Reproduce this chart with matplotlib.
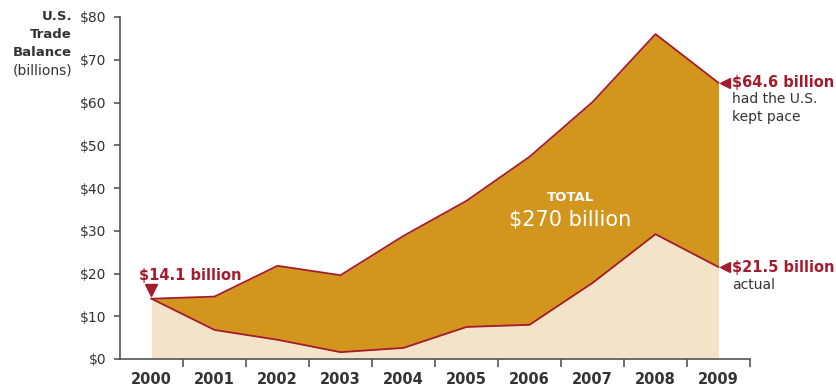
import matplotlib as mpl
import matplotlib.pyplot as plt
import numpy as np

mpl.rcParams['font.family'] = 'DejaVu Sans'

# data
years = ['2000', '2001', '2002', '2003', '2004', '2005', '2006', '2007', '2008', '2009']
kept_pace = [14.1, 14.6, 21.8, 19.6, 28.8, 37.0, 47.3, 60.1, 76.0, 64.6]
actual = [14.1, 6.8, 4.5, 1.6, 2.6, 7.5, 8.0, 17.8, 29.2, 21.5]
yticks = [0, 10, 20, 30, 40, 50, 60, 70, 80]

gold = '#D2951E'
beige = '#F2E3C9'
red = '#A51B2E'
grey = '#333333'

x = np.arange(len(years))

fig = plt.figure(figsize=(8.37, 3.87), dpi=100)
ax = fig.add_axes([120/837, 28/387, 630/837, 342/387])

ax.fill_between(x, 0, actual, color=beige, lw=0)
ax.fill_between(x, actual, kept_pace, color=gold, lw=0)
ax.plot(x, kept_pace, color=red, lw=1.3)
ax.plot(x, actual, color=red, lw=1.3)

ax.set_xlim(-0.5, 9.5)
ax.set_ylim(0, 80)
ax.spines['top'].set_visible(False)
ax.spines['right'].set_visible(False)
for s in ['left', 'bottom']:
    ax.spines[s].set_color('#555555')
    ax.spines[s].set_linewidth(1.2)

ax.set_yticks(yticks)
ax.set_yticklabels(['$%d' % v for v in yticks], color=grey, fontsize=10)
ax.set_xticks(x)
ax.set_xticklabels(years, color=grey, fontsize=10.5, fontweight='bold')
ax.set_xticks(np.arange(0.5, 9.6, 1), minor=True)
ax.tick_params(axis='x', which='major', length=0, pad=9)
ax.tick_params(axis='x', which='minor', length=6, width=1.2, color='#555555')
ax.tick_params(axis='y', length=4, width=1.2, color='#555555', pad=6)

# axis title, top left
fig.text(72/837, 1 - 17/387, 'U.S.', ha='right', va='center', fontsize=9.5, fontweight='bold', color=grey)
fig.text(72/837, 1 - 35/387, 'Trade', ha='right', va='center', fontsize=9.5, fontweight='bold', color=grey)
fig.text(72/837, 1 - 53/387, 'Balance', ha='right', va='center', fontsize=9.5, fontweight='bold', color=grey)
fig.text(72/837, 1 - 70/387, '(billions)', ha='right', va='center', fontsize=10, color=grey)

# annotations
ax.plot(0, 16.2, marker='v', color=red, ms=8, clip_on=False)
ax.text(-0.2, 19.5, '$14.1 billion', ha='left', va='center', fontsize=10.5, fontweight='bold', color=red)

ax.plot(9.1, 64.6, marker='<', color=red, ms=7, clip_on=False)
ax.text(9.21, 64.6, '$64.6 billion', ha='left', va='center', fontsize=10.5, fontweight='bold', color=red, clip_on=False)
ax.text(9.21, 60.8, 'had the U.S.', ha='left', va='center', fontsize=10, color=grey, clip_on=False)
ax.text(9.21, 56.6, 'kept pace', ha='left', va='center', fontsize=10, color=grey, clip_on=False)

ax.plot(9.1, 21.5, marker='<', color=red, ms=7, clip_on=False)
ax.text(9.21, 21.5, '$21.5 billion', ha='left', va='center', fontsize=10.5, fontweight='bold', color=red, clip_on=False)
ax.text(9.21, 17.3, 'actual', ha='left', va='center', fontsize=10, color=grey, clip_on=False)

ax.text(6.65, 37.8, 'TOTAL', ha='center', va='center', fontsize=9.5, fontweight='bold', color='white')
ax.text(6.65, 32.6, '$270 billion', ha='center', va='center', fontsize=15, color='white')

fig.savefig('out.png', dpi=100)
